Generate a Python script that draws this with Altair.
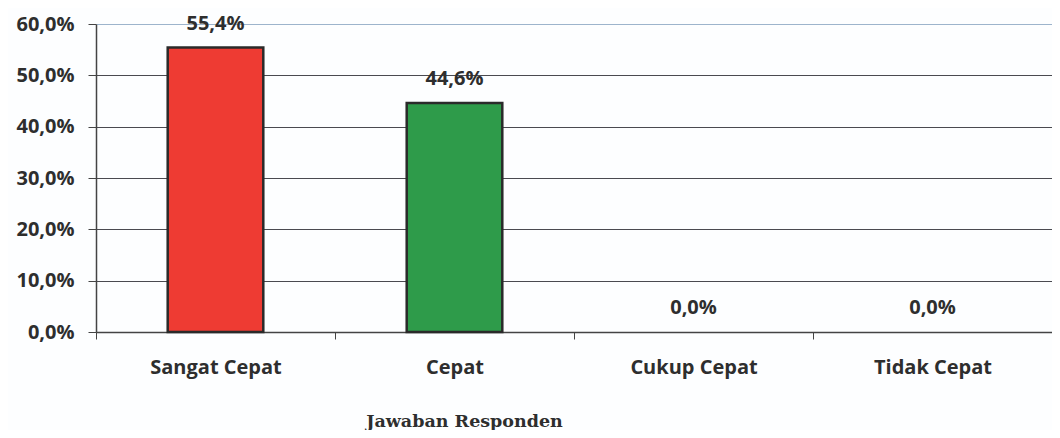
import altair as alt
import pandas as pd

categories = ["Sangat Cepat", "Cepat", "Cukup Cepat", "Tidak Cepat"]
values = [55.4, 44.6, 0.0, 0.0]
colors = ["#EE3B33", "#2E9B4A", "#FFFFFF", "#FFFFFF"]
y_ticks = [0, 10, 20, 30, 40, 50, 60]

df = pd.DataFrame({"cat": categories, "val": values, "color": colors})
df["label"] = [f"{v:.1f}".replace(".", ",") + "%" for v in values]

FONT = "Open Sans"
TXT = "#2e2e2e"
FS = 20

x = alt.X(
    "cat:N",
    sort=categories,
    scale=alt.Scale(paddingInner=0, paddingOuter=0),
    axis=alt.Axis(
        title="Jawaban Responden",
        titleFont="DejaVu Serif",
        titleFontSize=17.5,
        titleFontWeight="bold",
        titleColor=TXT,
        titleX=368,
        titleY=89,
        titleAlign="center",
        titleBaseline="middle",
        labelFont=FONT,
        labelFontSize=FS,
        labelFontWeight="bold",
        labelColor=TXT,
        labelAngle=0,
        labelPadding=18,
        tickBand="extent",
        tickSize=7,
        tickColor="#444444",
        domainColor="#444444",
        domainWidth=1.5,
        grid=False,
    ),
)

y = alt.Y(
    "val:Q",
    scale=alt.Scale(domain=[0, 60], nice=False),
    axis=alt.Axis(
        title=None,
        values=y_ticks,
        labelExpr="replace(format(datum.value, '.1f'), '.', ',') + '%'",
        labelFont=FONT,
        labelFontSize=FS,
        labelFontWeight="bold",
        labelColor=TXT,
        labelPadding=14,
        tickSize=8,
        tickColor="#444444",
        domainColor="#444444",
        domainWidth=1.5,
        grid=True,
        gridColor={"condition": {"test": "datum.value == 60", "value": "#9db4cc"}, "value": "#4a4a50"},
        gridWidth=1.2,
    ),
)

bars = alt.Chart(df).mark_bar(
    width=alt.RelativeBandSize(0.4),
    stroke="#2a2a2a",
    strokeWidth=2.5,
).encode(
    x=x,
    y=y,
    color=alt.Color("color:N", scale=None),
    strokeOpacity=alt.condition("datum.val > 0", alt.value(1), alt.value(0)),
    fillOpacity=alt.condition("datum.val > 0", alt.value(1), alt.value(0)),
)

labels = alt.Chart(df).mark_text(
    font=FONT,
    fontSize=FS,
    fontWeight="bold",
    color=TXT,
    baseline="bottom",
    dy=-14,
).encode(
    x=alt.X("cat:N", sort=categories),
    y=alt.Y("val:Q"),
    text="label:N",
)

chart = (
    alt.layer(bars, labels)
    .properties(
        width=956,
        height=308,
        autosize=alt.AutoSizeParams(type="none"),
        padding={"left": 88, "top": 16, "right": 0, "bottom": 98},
        background="#FDFEFF",
    )
    .configure_view(stroke=None)
)

chart.save("out.html", embed_options={"renderer": "svg", "actions": False})
